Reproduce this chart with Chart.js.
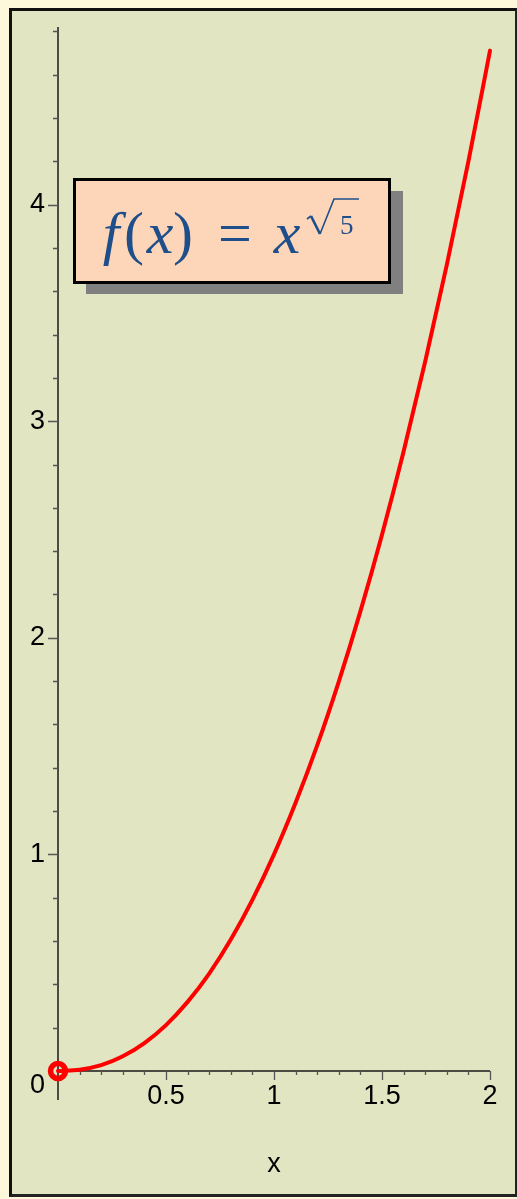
<!DOCTYPE html>
<html>
<head>
<meta charset="utf-8">
<script src="https://cdn.jsdelivr.net/npm/chart.js@4"></script>
<style>
  html, body { margin: 0; padding: 0; background: #fdf7dc; }
  .panel {
    position: absolute; left: 9px; top: 8px; width: 508px; height: 1189px;
    box-sizing: border-box; background: #e1e5c1;
    border-left: 3px solid #111; border-top: 3px solid #111;
    border-right: 2px solid #222; border-bottom: 3px solid #222;
  }
  #plot { position: absolute; left: 0; top: 0; }
</style>
</head>
<body>
<div class="panel"></div>
<canvas id="plot" width="517" height="1199"></canvas>
<script>
// values, f(x) = x^sqrt(5)
const xValues = [0, 0.1, 0.2, 0.3, 0.4, 0.5, 0.6, 0.7, 0.8, 0.9, 1.0,
                 1.1, 1.2, 1.3, 1.4, 1.5, 1.6, 1.7, 1.8, 1.9, 2.0];
const yValues = [0, 0.006, 0.027, 0.068, 0.129, 0.212, 0.319, 0.450, 0.607, 0.790, 1.0,
                 1.238, 1.503, 1.798, 2.122, 2.476, 2.860, 3.276, 3.722, 4.200, 4.711];
const startPoint = [{ x: 0, y: 0 }];

const xTicks = [0.5, 1, 1.5, 2];
const xTickLabels = ['0.5', '1', '1.5', '2'];
const yTicks = [0, 1, 2, 3, 4];
const yTickLabels = ['0', '1', '2', '3', '4'];
const xTitle = 'x';

const colors = {
    curve: '#ff0000',
    axis: '#1a1a1a',
    tick: '#555555',
    label: '#000000',
    boxFill: '#fdd5b8',
    boxShadow: '#808080',
    formula: '#1f4f8a'
};

// axes in Maple style: ticks left of y axis, below x axis
const axesPlugin = {
    id: 'mapleAxes',
    beforeDatasetsDraw(chart) {
        const { ctx, scales: { x, y } } = chart;
        const x0 = x.getPixelForValue(0);
        const y0 = y.getPixelForValue(0);
        ctx.save();
        ctx.strokeStyle = colors.axis;
        ctx.lineWidth = 1.5;
        ctx.beginPath();
        ctx.moveTo(x0, y.getPixelForValue(y.max));
        ctx.lineTo(x0, y0 + 29);
        ctx.moveTo(x0, y0);
        ctx.lineTo(x.getPixelForValue(2), y0);
        ctx.stroke();

        ctx.strokeStyle = colors.tick;
        ctx.lineWidth = 1.3;
        ctx.beginPath();
        for (let i = 1; i <= 20; i++) {
            const px = Math.round(x.getPixelForValue(i / 10)) + 0.5;
            ctx.moveTo(px, y0);
            ctx.lineTo(px, y0 + (i % 5 === 0 ? 9 : 4));
        }
        for (let i = 1; i <= 24; i++) {
            const py = Math.round(y.getPixelForValue(i / 5)) + 0.5;
            ctx.moveTo(x0, py);
            ctx.lineTo(x0 - (i % 5 === 0 ? 10 : 5), py);
        }
        ctx.stroke();

        ctx.fillStyle = colors.label;
        ctx.font = "27px 'Liberation Sans', Arial, sans-serif";
        ctx.textBaseline = 'middle';
        ctx.textAlign = 'center';
        xTicks.forEach((v, i) => ctx.fillText(xTickLabels[i], x.getPixelForValue(v), y0 + 26));
        ctx.fillText(xTitle, x.getPixelForValue(1), y0 + 94);
        ctx.textAlign = 'right';
        yTicks.forEach((v, i) => {
            const off = v === 0 ? 15 : 0;
            ctx.fillText(yTickLabels[i], x0 - 13, y.getPixelForValue(v) + off);
        });
        ctx.restore();
    },
    afterDatasetsDraw(chart) {
        const { ctx } = chart;
        ctx.save();
        // formula box with shadow
        ctx.fillStyle = colors.boxShadow;
        ctx.fillRect(86, 191, 317, 103);
        ctx.fillStyle = colors.boxFill;
        ctx.fillRect(73, 178, 318, 106);
        ctx.strokeStyle = '#000';
        ctx.lineWidth = 3;
        ctx.strokeRect(74.5, 179.5, 315, 103);

        ctx.fillStyle = colors.formula;
        ctx.textBaseline = 'alphabetic';
        ctx.textAlign = 'center';
        const serif = "'Liberation Serif', 'DejaVu Serif', serif";
        const base = 253;
        const parts = [
            ['f', 111, 'italic'], ['(', 134, 'normal'], ['x', 160, 'italic'],
            [')', 183, 'normal'], ['=', 235, 'normal'], ['x', 287, 'italic']
        ];
        parts.forEach(([t, cx, st]) => {
            ctx.font = `${st} 60px ${serif}`;
            ctx.fillText(t, cx, base);
        });
        ctx.font = `normal 27px ${serif}`;
        ctx.textAlign = 'left';
        ctx.fillText('5', 340, 234);
        // radical sign
        ctx.strokeStyle = colors.formula;
        ctx.lineJoin = 'miter';
        ctx.lineWidth = 1.6;
        ctx.beginPath();
        ctx.moveTo(307, 219);
        ctx.lineTo(311, 216);
        ctx.stroke();
        ctx.lineWidth = 2.6;
        ctx.beginPath();
        ctx.moveTo(311, 216);
        ctx.lineTo(320, 234);
        ctx.stroke();
        ctx.lineWidth = 1.6;
        ctx.beginPath();
        ctx.moveTo(320, 234);
        ctx.lineTo(334, 199);
        ctx.lineTo(359, 199);
        ctx.stroke();
        ctx.restore();
    }
};

new Chart(document.getElementById('plot'), {
    type: 'line',
    data: {
        datasets: [
            {
                data: xValues.map((v, i) => ({ x: v, y: yValues[i] })),
                borderColor: colors.curve,
                borderWidth: 4,
                borderCapStyle: 'round',
                pointRadius: 0,
                cubicInterpolationMode: 'monotone',
                fill: false,
                clip: false
            },
            {
                data: startPoint,
                showLine: false,
                pointRadius: 7.5,
                pointBorderWidth: 5.5,
                pointBorderColor: colors.curve,
                pointBackgroundColor: 'rgba(0,0,0,0)',
                clip: false
            }
        ]
    },
    options: {
        responsive: false,
        animation: false,
        layout: { padding: { left: 58, right: 27, top: 27, bottom: 128 } },
        plugins: { legend: { display: false }, tooltip: { enabled: false } },
        scales: {
            x: { type: 'linear', min: 0, max: 2, display: false },
            y: { type: 'linear', min: 0, max: 4.82, display: false }
        }
    },
    plugins: [axesPlugin]
});
</script>
</body>
</html>
